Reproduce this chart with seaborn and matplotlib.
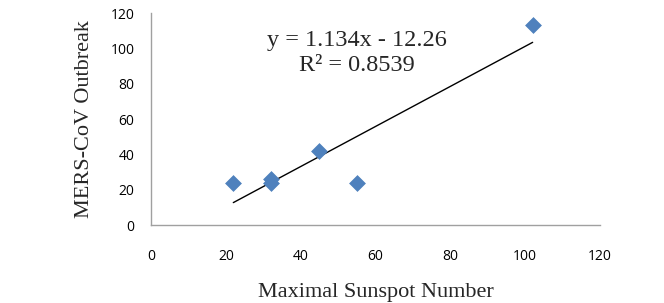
import matplotlib
matplotlib.use("Agg")
import matplotlib.pyplot as plt
import pandas as pd
import seaborn as sns

# data
sunspot = [22, 32, 32, 45, 55, 102]
outbreak = [24, 26, 24, 42, 24, 113]
x_ticks = [0, 20, 40, 60, 80, 100, 120]
y_ticks = [0, 20, 40, 60, 80, 100, 120]
equation = "y = 1.134x - 12.26"
r_squared = "R\u00b2 = 0.8539"

df = pd.DataFrame({"sunspot": sunspot, "outbreak": outbreak})

sns.set_style("white")
plt.rcParams["font.family"] = ["Open Sans", "DejaVu Sans"]
serif = ["Liberation Serif", "DejaVu Serif"]

fig = plt.figure(figsize=(6.64, 3.03), dpi=100)
ax = fig.add_axes([0.2274, 0.2574, 0.6762, 0.6996])

# trend line from the fit, markers on top
sns.regplot(data=df, x="sunspot", y="outbreak", ax=ax, ci=None, truncate=True,
            scatter=False, line_kws={"color": "black", "lw": 1.0})
sns.scatterplot(data=df, x="sunspot", y="outbreak", ax=ax, marker="D", s=65,
                color="#4F81BD", edgecolor="#4F81BD", linewidth=0.5, zorder=3)

ax.text(55, 104.5, equation, ha="center", va="center", fontsize=17.5, family=serif)
ax.text(55, 90.5, r_squared, ha="center", va="center", fontsize=17.5, family=serif)

ax.set_xlim(0, 120)
ax.set_ylim(0, 120)
ax.set_xticks(x_ticks)
ax.set_yticks(y_ticks)
ax.tick_params(axis="both", length=0, labelsize=10, colors="black")
ax.tick_params(axis="x", pad=17)
ax.tick_params(axis="y", pad=12)
for side in ["top", "right"]:
    ax.spines[side].set_visible(False)
for side in ["left", "bottom"]:
    ax.spines[side].set_color("#A0A0A0")
    ax.spines[side].set_linewidth(1.0)

ax.set_xlabel("Maximal Sunspot Number", fontsize=16, labelpad=14, family=serif)
ax.set_ylabel("MERS-CoV Outbreak", fontsize=16, labelpad=12, family=serif)

fig.savefig("out.png", dpi=100)
